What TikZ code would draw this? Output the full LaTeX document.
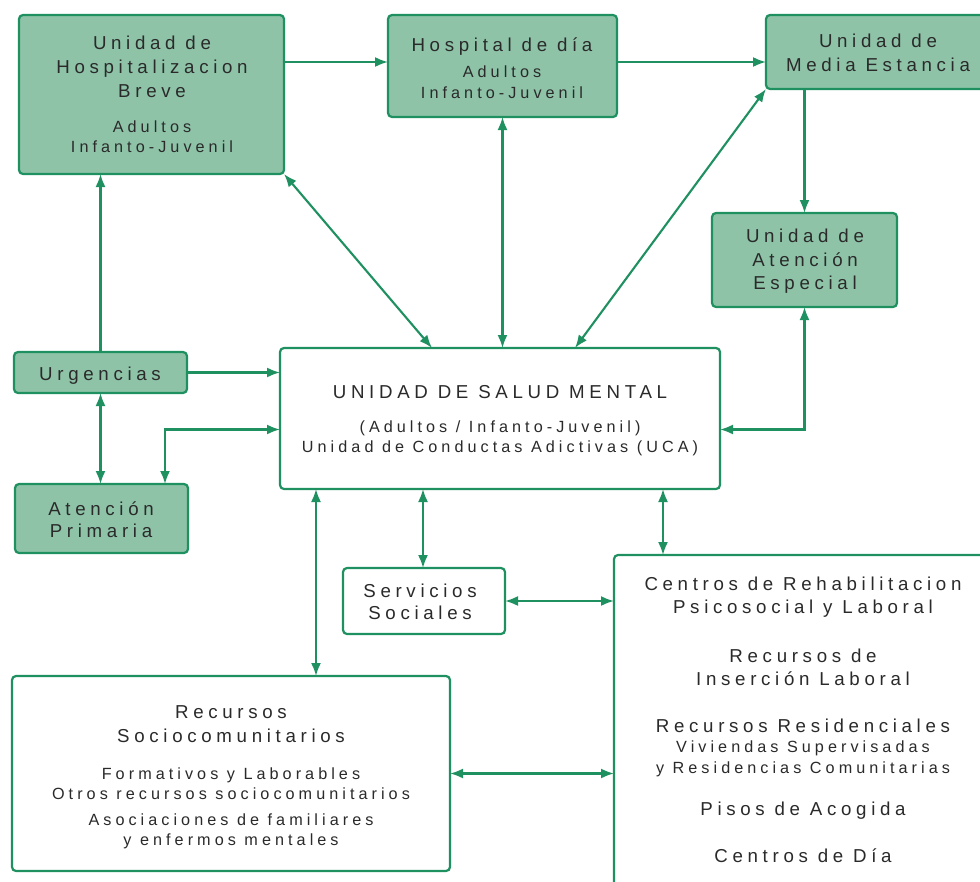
\documentclass[tikz,border=0pt]{standalone}
\usepackage{fontspec}
\newfontfamily\dfont{Liberation Sans}[LetterSpace=25]
\usetikzlibrary{arrows.meta}
\definecolor{gfill}{HTML}{8EC3A8}
\definecolor{gline}{HTML}{1F9060}
\definecolor{tcol}{HTML}{2A2A2A}
\begin{document}
\begin{tikzpicture}[x=1pt,y=-1pt,
 gbox/.style={draw=gline, line width=2.2pt, fill=gfill, rounded corners=4pt, inner sep=0pt, outer sep=0pt, anchor=north west},
 wbox/.style={gbox, fill=white},
 big/.style={font=\dfont\fontsize{18.7}{22}\selectfont, text=tcol, anchor=base, inner sep=0pt},
 sml/.style={font=\dfont\fontsize{16.2}{18}\selectfont, text=tcol, anchor=base, inner sep=0pt},
 link/.style={draw=gline, line width=2.1pt, -{Latex[length=13pt,width=10pt]}},
 blink/.style={draw=gline, line width=2.1pt, {Latex[length=13pt,width=10pt]}-{Latex[length=13pt,width=10pt]}},
]
\clip (0,0) rectangle (980,881);
\fill[white] (0,0) rectangle (980,881);
% boxes
\node[gbox, minimum width=265pt, minimum height=159pt] (uhb) at (19,15) {};
\node[gbox, minimum width=229pt, minimum height=102pt] (hdd) at (388,15) {};
\node[gbox, minimum width=225pt, minimum height=74pt] (me) at (766,15) {};
\node[gbox, minimum width=185pt, minimum height=94pt] (ae) at (712,213) {};
\node[gbox, minimum width=173pt, minimum height=41pt] (urg) at (14,352) {};
\node[gbox, minimum width=173pt, minimum height=69pt] (ap) at (15,484) {};
\node[wbox, minimum width=440pt, minimum height=141pt] (usm) at (280,348) {};
\node[wbox, minimum width=162pt, minimum height=66pt] (ss) at (343,568) {};
\node[wbox, minimum width=380pt, minimum height=340pt] (cen) at (614,555) {};
\node[wbox, minimum width=438pt, minimum height=195pt] (rec) at (12,676) {};
% texts
\node[big] (t1a) at (152,49) {Unidad de};
\node[big] (t1b) at (152,73) {Hospitalizacion};
\node[big] (t1c) at (152,97) {Breve};
\node[sml] (t1d) at (152,132) {Adultos};
\node[sml] (t1e) at (152,152) {Infanto-Juvenil};
\node[big] (t2a) at (502,51) {Hospital de día};
\node[sml] (t2b) at (502,77) {Adultos};
\node[sml] (t2c) at (502,98) {Infanto-Juvenil};
\node[big] (t3a) at (878,47) {Unidad de};
\node[big] (t3b) at (878,71) {Media Estancia};
\node[big] (t4a) at (805,242) {Unidad de};
\node[big] (t4b) at (805,266) {Atención};
\node[big] (t4c) at (805,289) {Especial};
\node[big] (t5) at (100,380) {Urgencias};
\node[big] (t6a) at (101,515) {Atención};
\node[big] (t6b) at (101,537) {Primaria};
\node[big] (t7a) at (500,398) {UNIDAD DE SALUD MENTAL};
\node[sml] (t7b) at (500,432) {(Adultos / Infanto-Juvenil)};
\node[sml] (t7c) at (500,452) {Unidad de Conductas Adictivas (UCA)};
\node[big] (t8a) at (420,597) {Servicios};
\node[big] (t8b) at (420,619) {Sociales};
\node[big] (t9a) at (803,590) {Centros de Rehabilitacion};
\node[big] (t9b) at (803,613) {Psicosocial y Laboral};
\node[big] (t9c) at (803,662) {Recursos de};
\node[big] (t9d) at (803,685) {Inserción Laboral};
\node[big] (t9e) at (803,732) {Recursos Residenciales};
\node[sml] (t9f) at (803,752) {Viviendas Supervisadas};
\node[sml] (t9g) at (803,773) {y Residencias Comunitarias};
\node[big] (t9h) at (803,815) {Pisos de Acogida};
\node[big] (t9i) at (803,862) {Centros de Día};
\node[big] (t10a) at (231,718) {Recursos};
\node[big] (t10b) at (231,742) {Sociocomunitarios};
\node[sml] (t10c) at (231,779) {Formativos y Laborables};
\node[sml] (t10d) at (231,799) {Otros recursos sociocomunitarios};
\node[sml] (t10e) at (231,825) {Asociaciones de familiares};
\node[sml] (t10f) at (231,845) {y enfermos mentales};
% helper coordinates
\coordinate (pUSMae) at ([yshift=-11pt]usm.east);
\coordinate (pUSMap) at ([yshift=-11pt]usm.west);
\coordinate (pAP) at ([xshift=150pt]ap.north west);
\coordinate (pUSMuhb) at ([xshift=152pt]usm.north west);
\coordinate (pUSMme) at ([xshift=295pt]usm.north west);
\coordinate (pUSMrec) at ([xshift=36pt]usm.south west);
\coordinate (pUSMss) at ([xshift=80pt]ss.north west);
\coordinate (pUSMcen) at ([xshift=383pt]usm.south west);
% connectors
\draw[link] ([yshift=-47pt]uhb.north east) -- ([yshift=-47pt]hdd.north west);
\draw[link] ([yshift=-47pt]hdd.north east) -- ([yshift=-47pt]me.north west);
\draw[link] (ae.north |- me.south) -- (ae.north);
\draw[blink] (ae.south) |- (pUSMae);
\draw[blink] (uhb.south east) -- (pUSMuhb);
\draw[blink] (hdd.south) -- (hdd.south |- usm.north);
\draw[blink] (me.south west) -- (pUSMme);
\draw[link] (urg.north) -- (urg.north |- uhb.south);
\draw[link] (urg.east) -- (urg.east -| usm.west);
\draw[blink] (urg.south) -- (urg.south |- ap.north);
\draw[blink] (pUSMap) -| (pAP);
\draw[blink] (pUSMrec) -- (pUSMrec |- rec.north);
\draw[blink] (pUSMss |- usm.south) -- (pUSMss);
\draw[blink] (pUSMcen) -- (pUSMcen |- cen.north);
\draw[blink] (ss.east) -- (ss.east -| cen.west);
\draw[blink] (rec.east) -- (rec.east -| cen.west);
\end{tikzpicture}
\end{document}
